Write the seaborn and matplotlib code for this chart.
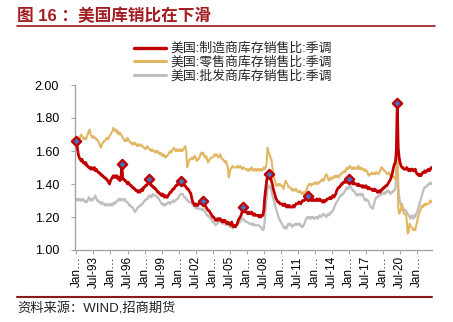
import numpy as np
import pandas as pd
import matplotlib
matplotlib.use("Agg")
import matplotlib.pyplot as plt
from matplotlib.lines import Line2D
import seaborn as sns

# ---------------- data (monthly, Jan-1992 .. Apr-2023) ----------------
series_names = ["美国:制造商库存销售比:季调", "美国:零售商库存销售比:季调", "美国:批发商库存销售比:季调"]
start_month = "1992-01"

manufacturing = [
    1.66, 1.62, 1.58, 1.56, 1.55, 1.54, 1.55, 1.53, 1.53, 1.52, 1.53, 1.51,
    1.51, 1.50, 1.50, 1.49, 1.50, 1.49, 1.49, 1.50, 1.48, 1.49, 1.48, 1.47,
    1.47, 1.46, 1.46, 1.45, 1.45, 1.44, 1.44, 1.43, 1.43, 1.42, 1.41, 1.40,
    1.42, 1.43, 1.44, 1.45, 1.44, 1.45, 1.44, 1.45, 1.43, 1.44, 1.42, 1.43,
    1.52, 1.43, 1.43, 1.42, 1.42, 1.41, 1.40, 1.41, 1.40, 1.39, 1.39, 1.38,
    1.38, 1.37, 1.37, 1.36, 1.36, 1.35, 1.36, 1.35, 1.36, 1.37, 1.36, 1.38,
    1.38, 1.39, 1.39, 1.40, 1.41, 1.43, 1.40, 1.39, 1.39, 1.38, 1.38, 1.37,
    1.37, 1.36, 1.35, 1.35, 1.34, 1.34, 1.33, 1.34, 1.33, 1.32, 1.33, 1.32,
    1.32, 1.33, 1.34, 1.35, 1.35, 1.36, 1.37, 1.37, 1.38, 1.39, 1.39, 1.40,
    1.40, 1.41, 1.42, 1.41, 1.40, 1.40, 1.39, 1.39, 1.38, 1.37, 1.37, 1.36,
    1.35, 1.34, 1.31, 1.29, 1.28, 1.27, 1.28, 1.27, 1.27, 1.28, 1.28, 1.29,
    1.29, 1.29, 1.30, 1.28, 1.27, 1.26, 1.25, 1.24, 1.24, 1.23, 1.22, 1.21,
    1.20, 1.20, 1.19, 1.18, 1.18, 1.19, 1.18, 1.19, 1.19, 1.18, 1.17, 1.18,
    1.17, 1.18, 1.17, 1.16, 1.17, 1.16, 1.16, 1.15, 1.17, 1.15, 1.14, 1.15,
    1.14, 1.15, 1.16, 1.18, 1.19, 1.20, 1.21, 1.23, 1.26, 1.24, 1.23, 1.23,
    1.23, 1.22, 1.23, 1.22, 1.22, 1.23, 1.22, 1.21, 1.22, 1.21, 1.21, 1.21,
    1.21, 1.20, 1.21, 1.20, 1.21, 1.21, 1.24, 1.32, 1.37, 1.42, 1.45, 1.46,
    1.45, 1.44, 1.42, 1.40, 1.37, 1.35, 1.33, 1.31, 1.30, 1.29, 1.29, 1.28,
    1.28, 1.28, 1.27, 1.27, 1.28, 1.27, 1.26, 1.27, 1.26, 1.27, 1.26, 1.26,
    1.26, 1.27, 1.26, 1.27, 1.28, 1.28, 1.28, 1.29, 1.29, 1.28, 1.29, 1.30,
    1.30, 1.30, 1.31, 1.31, 1.32, 1.33, 1.31, 1.31, 1.30, 1.30, 1.31, 1.30,
    1.30, 1.30, 1.31, 1.30, 1.30, 1.31, 1.30, 1.30, 1.29, 1.30, 1.29, 1.30,
    1.30, 1.31, 1.31, 1.31, 1.32, 1.31, 1.32, 1.33, 1.32, 1.33, 1.34, 1.36,
    1.37, 1.38, 1.38, 1.39, 1.40, 1.40, 1.41, 1.41, 1.42, 1.41, 1.42, 1.42,
    1.43, 1.42, 1.41, 1.41, 1.40, 1.41, 1.40, 1.40, 1.40, 1.39, 1.40, 1.39,
    1.39, 1.39, 1.38, 1.39, 1.38, 1.38, 1.39, 1.38, 1.37, 1.38, 1.37, 1.37,
    1.37, 1.36, 1.36, 1.37, 1.36, 1.36, 1.35, 1.35, 1.36, 1.35, 1.36, 1.37,
    1.37, 1.38, 1.38, 1.39, 1.39, 1.40, 1.41, 1.42, 1.43, 1.45, 1.47, 1.50,
    1.52, 1.53, 1.60, 1.89, 1.62, 1.56, 1.53, 1.51, 1.50, 1.50, 1.49, 1.49,
    1.49, 1.50, 1.49, 1.48, 1.49, 1.48, 1.49, 1.49, 1.48, 1.48, 1.49, 1.47,
    1.46, 1.46, 1.45, 1.46, 1.45, 1.46, 1.47, 1.47, 1.48, 1.47, 1.48, 1.48,
    1.49, 1.48, 1.49, 1.50,
]

retail = [
    1.66, 1.67, 1.68, 1.67, 1.69, 1.70, 1.69, 1.68, 1.67, 1.68, 1.67, 1.69,
    1.70, 1.72, 1.73, 1.70, 1.69, 1.68, 1.69, 1.68, 1.68, 1.67, 1.67, 1.66,
    1.65, 1.63, 1.62, 1.64, 1.65, 1.66, 1.66, 1.67, 1.68, 1.67, 1.68, 1.69,
    1.70, 1.71, 1.72, 1.74, 1.73, 1.72, 1.73, 1.71, 1.72, 1.70, 1.71, 1.70,
    1.69, 1.68, 1.67, 1.66, 1.67, 1.66, 1.68, 1.67, 1.66, 1.65, 1.65, 1.64,
    1.65, 1.64, 1.65, 1.64, 1.63, 1.64, 1.63, 1.64, 1.64, 1.63, 1.63, 1.62,
    1.62, 1.61, 1.62, 1.63, 1.62, 1.61, 1.61, 1.60, 1.61, 1.60, 1.60, 1.59,
    1.60, 1.59, 1.60, 1.59, 1.58, 1.59, 1.58, 1.57, 1.58, 1.57, 1.56, 1.57,
    1.57, 1.58, 1.59, 1.60, 1.59, 1.60, 1.61, 1.62, 1.61, 1.60, 1.61, 1.60,
    1.60, 1.61, 1.60, 1.61, 1.60, 1.61, 1.62, 1.63, 1.60, 1.50, 1.52, 1.54,
    1.55, 1.55, 1.56, 1.55, 1.56, 1.57, 1.56, 1.54, 1.55, 1.55, 1.56, 1.58,
    1.59, 1.58, 1.59, 1.57, 1.56, 1.57, 1.55, 1.53, 1.54, 1.55, 1.56, 1.56,
    1.56, 1.57, 1.58, 1.57, 1.58, 1.57, 1.56, 1.57, 1.58, 1.56, 1.55, 1.55,
    1.54, 1.53, 1.54, 1.52, 1.50, 1.44, 1.47, 1.49, 1.50, 1.51, 1.50, 1.50,
    1.50, 1.50, 1.51, 1.50, 1.50, 1.51, 1.50, 1.49, 1.50, 1.50, 1.49, 1.49,
    1.49, 1.48, 1.49, 1.48, 1.49, 1.50, 1.49, 1.48, 1.49, 1.49, 1.48, 1.49,
    1.49, 1.48, 1.49, 1.49, 1.48, 1.49, 1.50, 1.49, 1.50, 1.53, 1.62, 1.59,
    1.58, 1.56, 1.55, 1.50, 1.45, 1.43, 1.42, 1.39, 1.39, 1.40, 1.39, 1.40,
    1.39, 1.39, 1.38, 1.37, 1.40, 1.42, 1.41, 1.40, 1.38, 1.38, 1.38, 1.37,
    1.36, 1.37, 1.36, 1.36, 1.37, 1.36, 1.35, 1.35, 1.36, 1.35, 1.34, 1.35,
    1.34, 1.35, 1.35, 1.36, 1.38, 1.39, 1.40, 1.40, 1.39, 1.40, 1.40, 1.40,
    1.41, 1.40, 1.41, 1.40, 1.41, 1.41, 1.42, 1.42, 1.43, 1.42, 1.43, 1.45,
    1.46, 1.45, 1.43, 1.42, 1.43, 1.44, 1.43, 1.44, 1.44, 1.45, 1.44, 1.45,
    1.45, 1.44, 1.45, 1.46, 1.46, 1.47, 1.47, 1.48, 1.47, 1.49, 1.50, 1.49,
    1.50, 1.51, 1.50, 1.49, 1.50, 1.49, 1.50, 1.50, 1.49, 1.50, 1.51, 1.49,
    1.49, 1.50, 1.49, 1.49, 1.48, 1.49, 1.48, 1.48, 1.46, 1.45, 1.46, 1.46,
    1.47, 1.46, 1.46, 1.47, 1.46, 1.47, 1.47, 1.46, 1.47, 1.48, 1.50, 1.50,
    1.49, 1.48, 1.48, 1.47, 1.46, 1.46, 1.47, 1.46, 1.45, 1.45, 1.45, 1.44,
    1.44, 1.43, 1.47, 1.68, 1.26, 1.22, 1.23, 1.25, 1.28, 1.24, 1.22, 1.22,
    1.22, 1.18, 1.10, 1.11, 1.16, 1.15, 1.14, 1.13, 1.12, 1.13, 1.12, 1.15,
    1.17, 1.20, 1.22, 1.24, 1.25, 1.27, 1.26, 1.27, 1.28, 1.27, 1.28, 1.28,
    1.28, 1.29, 1.30, 1.29,
]

wholesale = [
    1.31, 1.30, 1.31, 1.30, 1.31, 1.30, 1.30, 1.31, 1.30, 1.29, 1.30, 1.29,
    1.30, 1.32, 1.31, 1.30, 1.31, 1.30, 1.31, 1.32, 1.33, 1.31, 1.30, 1.30,
    1.29, 1.29, 1.28, 1.29, 1.28, 1.28, 1.27, 1.28, 1.27, 1.27, 1.28, 1.27,
    1.27, 1.28, 1.27, 1.28, 1.29, 1.28, 1.29, 1.30, 1.30, 1.31, 1.30, 1.31,
    1.31, 1.30, 1.30, 1.31, 1.30, 1.29, 1.29, 1.28, 1.27, 1.27, 1.26, 1.26,
    1.25, 1.24, 1.23, 1.24, 1.25, 1.26, 1.26, 1.27, 1.27, 1.28, 1.28, 1.29,
    1.30, 1.30, 1.31, 1.31, 1.32, 1.33, 1.33, 1.32, 1.33, 1.34, 1.33, 1.33,
    1.33, 1.32, 1.32, 1.31, 1.30, 1.29, 1.28, 1.28, 1.27, 1.28, 1.27, 1.28,
    1.28, 1.29, 1.29, 1.28, 1.29, 1.29, 1.30, 1.29, 1.30, 1.30, 1.31, 1.31,
    1.32, 1.33, 1.34, 1.34, 1.34, 1.33, 1.32, 1.32, 1.31, 1.30, 1.30, 1.29,
    1.29, 1.29, 1.28, 1.27, 1.27, 1.26, 1.26, 1.25, 1.26, 1.25, 1.25, 1.25,
    1.25, 1.24, 1.25, 1.24, 1.23, 1.22, 1.21, 1.21, 1.20, 1.20, 1.19, 1.18,
    1.17, 1.17, 1.16, 1.15, 1.16, 1.16, 1.17, 1.17, 1.18, 1.17, 1.16, 1.16,
    1.16, 1.16, 1.15, 1.16, 1.15, 1.15, 1.14, 1.14, 1.14, 1.13, 1.14, 1.14,
    1.14, 1.15, 1.15, 1.16, 1.17, 1.17, 1.18, 1.19, 1.19, 1.18, 1.18, 1.17,
    1.17, 1.17, 1.16, 1.16, 1.16, 1.16, 1.15, 1.16, 1.15, 1.15, 1.15, 1.15,
    1.15, 1.15, 1.14, 1.14, 1.13, 1.12, 1.13, 1.18, 1.26, 1.32, 1.37, 1.39,
    1.39, 1.38, 1.36, 1.33, 1.31, 1.29, 1.27, 1.25, 1.23, 1.21, 1.19, 1.18,
    1.17, 1.16, 1.15, 1.14, 1.13, 1.14, 1.13, 1.15, 1.16, 1.15, 1.16, 1.15,
    1.14, 1.15, 1.15, 1.16, 1.15, 1.16, 1.16, 1.15, 1.16, 1.15, 1.14, 1.14,
    1.15, 1.16, 1.18, 1.19, 1.20, 1.20, 1.19, 1.20, 1.19, 1.20, 1.20, 1.19,
    1.19, 1.20, 1.20, 1.19, 1.20, 1.21, 1.20, 1.21, 1.21, 1.22, 1.21, 1.21,
    1.20, 1.21, 1.22, 1.21, 1.22, 1.23, 1.23, 1.24, 1.25, 1.27, 1.28, 1.29,
    1.30, 1.31, 1.32, 1.33, 1.33, 1.34, 1.34, 1.35, 1.36, 1.37, 1.38, 1.37,
    1.38, 1.39, 1.38, 1.37, 1.36, 1.36, 1.35, 1.34, 1.33, 1.34, 1.33, 1.34,
    1.34, 1.33, 1.34, 1.33, 1.31, 1.30, 1.31, 1.30, 1.30, 1.29, 1.27, 1.26,
    1.26, 1.25, 1.27, 1.29, 1.31, 1.32, 1.32, 1.33, 1.33, 1.33, 1.34, 1.34,
    1.34, 1.35, 1.34, 1.35, 1.36, 1.35, 1.36, 1.35, 1.34, 1.35, 1.35, 1.36,
    1.36, 1.37, 1.45, 1.66, 1.40, 1.32, 1.29, 1.27, 1.26, 1.25, 1.25, 1.24,
    1.24, 1.23, 1.22, 1.21, 1.20, 1.19, 1.21, 1.20, 1.19, 1.21, 1.20, 1.22,
    1.23, 1.25, 1.27, 1.29, 1.31, 1.33, 1.35, 1.37, 1.38, 1.38, 1.39, 1.39,
    1.40, 1.40, 1.41, 1.40,
]

# months marked with diamonds on the manufacturing line
marked_months = ["1992-01", "1996-01", "1998-06", "2001-03", "2003-03",
                 "2006-09", "2008-12", "2012-06", "2016-01", "2020-04"]

tick_labels = ["Jan…", "Jul-93", "Jan…", "Jul-96", "Jan…", "Jul-99", "Jan…",
               "Jul-02", "Jan…", "Jul-05", "Jan…", "Jul-08", "Jan…", "Jul-11",
               "Jan…", "Jul-14", "Jan…", "Jul-17", "Jan…", "Jul-20", "Jan…"]
y_ticks = [1.00, 1.20, 1.40, 1.60, 1.80, 2.00]

title_text = "图 16 ：美国库销比在下滑"
source_text = "资料来源：WIND,招商期货"

# ---------------- build frames ----------------
n = len(manufacturing)
months = pd.period_range(start_month, periods=n, freq="M")
pos = np.arange(n)
frames = []
for name, vals in zip(series_names, [manufacturing, retail, wholesale]):
    frames.append(pd.DataFrame({"pos": pos, "month": months.astype(str),
                                "value": vals, "series": name}))
df = pd.concat(frames, ignore_index=True)
mk = df[(df["series"] == series_names[0]) & (df["month"].isin(marked_months))]

# ---------------- style ----------------
sns.set_theme(style="white")
plt.rcParams["font.family"] = ["Liberation Sans", "Noto Sans CJK SC", "DejaVu Sans"]
plt.rcParams["axes.unicode_minus"] = False

colors = {series_names[0]: "#C00000",
          series_names[1]: "#E2B763",
          series_names[2]: "#BFBFBF"}
widths = {series_names[0]: 2.0, series_names[1]: 1.5, series_names[2]: 1.6}
zorders = {series_names[0]: 4, series_names[1]: 3, series_names[2]: 2}

W, H = 453, 322
fig = plt.figure(figsize=(W / 100, H / 100), dpi=100)
ax = fig.add_axes([75 / W, 1 - 250 / H, (432 - 75) / W, (250 - 85) / H])

for name in series_names:
    sub = df[df["series"] == name]
    sns.lineplot(data=sub, x="pos", y="value", color=colors[name],
                 linewidth=widths[name], ax=ax, label=name,
                 zorder=zorders[name], legend=False)

sns.scatterplot(data=mk, x="pos", y="value", marker="D", s=22,
                color="#4472C4", edgecolor="#C00000", linewidth=1.7,
                zorder=6, ax=ax, legend=False, clip_on=False)

ax.set_xlim(-1.5, n - 0.3)
ax.set_ylim(1.0, 2.0)
ax.set_yticks(y_ticks)
ax.set_yticklabels([f"{v:.2f}" for v in y_ticks])
ax.set_xticks(np.arange(0, 18 * len(tick_labels), 18))
ax.set_xticklabels(tick_labels, rotation=90, ha="center", va="top")
ax.set_xlabel("")
ax.set_ylabel("")

for s in ["top", "right"]:
    ax.spines[s].set_visible(False)
for s in ["left", "bottom"]:
    ax.spines[s].set_color("#A6A6A6")
    ax.spines[s].set_linewidth(1.0)
ax.tick_params(axis="y", direction="out", length=3, width=0.8, color="#A6A6A6",
               labelsize=9, pad=8.5, labelcolor="#000000", left=True)
ax.tick_params(axis="x", direction="out", length=3, width=0.8, color="#A6A6A6",
               labelsize=8.5, pad=1.5, labelcolor="#000000", bottom=True)
ax.grid(False)

handles = [Line2D([0], [0], color=colors[nm], lw=2.4 if i == 0 else 2.2)
           for i, nm in enumerate(series_names)]
fig.legend(handles, series_names, loc="upper center",
           bbox_to_anchor=(233 / W, 1 - 36 / H), frameon=False,
           fontsize=9.3, handlelength=2.5, handletextpad=0.35,
           labelspacing=0.1, borderpad=0.0)

# title, rules and source
fig.text(17 / W, 1 - 16 / H, title_text, fontsize=12, fontweight="bold",
         color="#A31D22", ha="left", va="center")
fig.add_artist(Line2D([17 / W, 435 / W], [1 - 26 / H, 1 - 26 / H],
                      color="#9B1B1F", lw=1.2))
fig.add_artist(Line2D([17 / W, 432 / W], [1 - 297 / H, 1 - 297 / H],
                      color="#8B1A1A", lw=1.5))
fig.text(17 / W, 1 - 309 / H, source_text, fontsize=9.5, color="#222222",
         ha="left", va="center")

fig.savefig("out.png", dpi=100)
